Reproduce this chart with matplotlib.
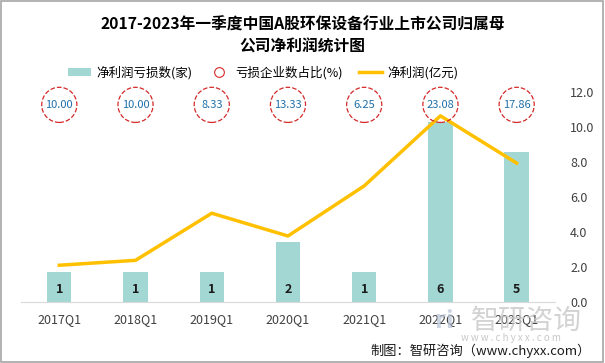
import matplotlib.pyplot as plt
from matplotlib.lines import Line2D
from matplotlib.patches import Patch, Rectangle
import matplotlib.transforms as mtransforms

plt.rcParams['font.family'] = ['Noto Sans CJK SC', 'DejaVu Sans']

quarters = ['2017Q1', '2018Q1', '2019Q1', '2020Q1', '2021Q1', '2022Q1', '2023Q1']
loss_counts = [1, 1, 1, 2, 1, 6, 5]
loss_ratio = [10.00, 10.00, 8.33, 13.33, 6.25, 23.08, 17.86]
net_profit = [2.1, 2.38, 5.07, 3.77, 6.63, 10.63, 7.93]

fig = plt.figure(figsize=(6.05, 3.63), dpi=100)
fig.patches.append(Rectangle((0.002, 0.003), 0.995, 0.994, transform=fig.transFigure,
                             fill=False, edgecolor='#a6a6a6', linewidth=1.2))

ax = fig.add_axes([0.035, 0.168, 0.882, 0.579])
x = list(range(len(quarters)))

bar_color = '#a3d7d4'
ax.bar(x, loss_counts, width=0.32, color=bar_color, zorder=2)
for xi, v in zip(x, loss_counts):
    ax.text(xi, 0.43, str(v), ha='center', va='center', fontsize=9,
            fontweight='bold', color='#1a1a1a', zorder=4)
ax.set_ylim(0, 7)
ax.set_xlim(-0.5, len(quarters) - 0.5)
ax.set_yticks([])
for s in ['top', 'right', 'left']:
    ax.spines[s].set_visible(False)
ax.spines['bottom'].set_color('#d9d9d9')
ax.tick_params(axis='x', length=0, pad=8, labelsize=9, labelcolor='#404040')
ax.set_xticks(x)
ax.set_xticklabels(quarters)

ax2 = ax.twinx()
line_color = '#ffc000'
ax2.plot(x, net_profit, color=line_color, linewidth=2.5, zorder=3)
ax2.set_ylim(0, 12)
ax2.set_yticks([0, 2, 4, 6, 8, 10, 12])
ax2.set_yticklabels([f'{v:.1f}' for v in [0, 2, 4, 6, 8, 10, 12]])
ax2.tick_params(axis='y', length=0, pad=11, labelsize=9, labelcolor='#404040')
for s in ['top', 'right', 'left', 'bottom']:
    ax2.spines[s].set_visible(False)

# ratio circles
trans = mtransforms.blended_transform_factory(ax2.transData, ax2.transAxes)
ax2.scatter(x, [0.938] * len(x), s=640, facecolors='none', edgecolors='#d42a2a',
            linewidths=0.9, linestyles='--', transform=trans, zorder=5, clip_on=False)
for xi, r in zip(x, loss_ratio):
    ax2.text(xi, 0.938, f'{r:.2f}', ha='center', va='center', fontsize=8,
             color='#1f6fa8', transform=trans, zorder=6)

# title
fig.text(0.5, 0.902, '2017-2023年一季度中国A股环保设备行业上市公司归属母\n公司净利润统计图',
         ha='center', va='center', fontsize=11.3, fontweight='bold', linespacing=1.45)

handles = [Patch(facecolor=bar_color, edgecolor='none'),
           Line2D([], [], marker='o', linestyle='none', markersize=7,
                  markerfacecolor='none', markeredgecolor='#d42a2a', markeredgewidth=0.8),
           Line2D([], [], color=line_color, linewidth=2.5)]
labels = ['净利润亏损数(家)', '亏损企业数占比(%)', '净利润(亿元)']
fig.legend(handles, labels, loc='center', bbox_to_anchor=(0.435, 0.8), ncol=3,
           frameon=False, fontsize=9, handlelength=1.8, columnspacing=1.3,
           handletextpad=0.4)

# watermark
fig.text(0.735, 0.115, 'ri', ha='center', va='center', fontsize=18,
         fontweight='bold', color='#b8c4d8', alpha=0.7)
fig.text(0.87, 0.115, '智研咨询', ha='center', va='center', fontsize=20,
         color='#c8c8c8', alpha=0.8)
fig.text(0.845, 0.068, 'w w w . c h y x x . c o m', ha='center', va='center',
         fontsize=7, color='#c8c8c8')
fig.text(0.977, 0.034, '制图：智研咨询（www.chyxx.com）', ha='right', va='center',
         fontsize=9.5, color='#1a1a1a')

fig.savefig('out.png', dpi=100)
